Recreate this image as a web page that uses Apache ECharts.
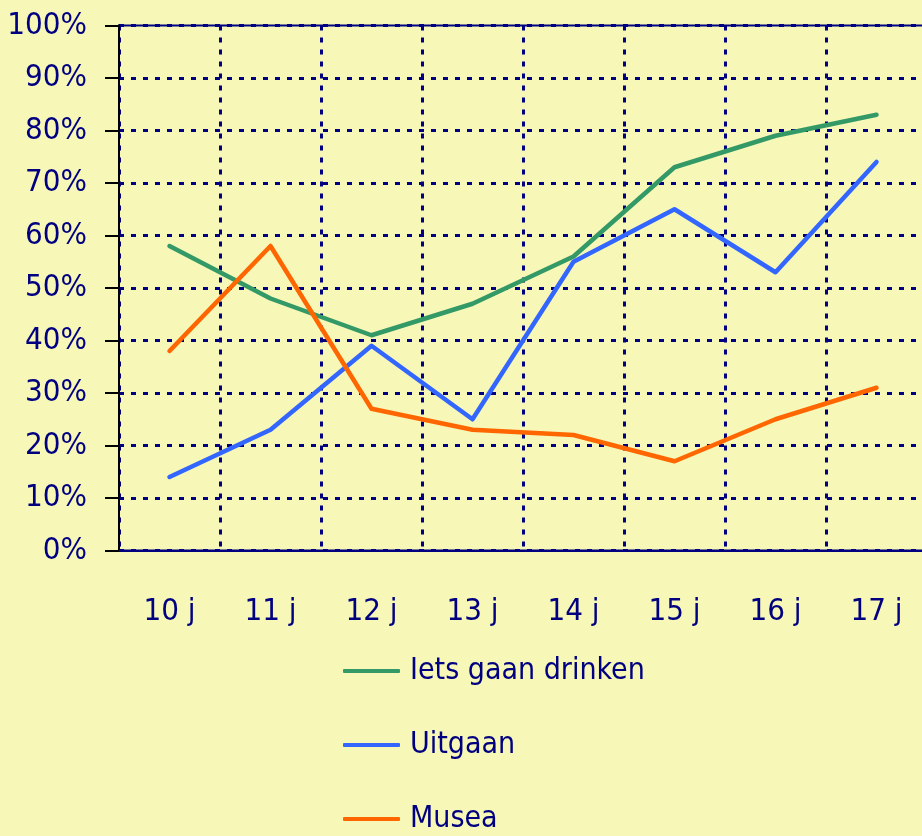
<!DOCTYPE html>
<html lang="nl">
<head>
	<meta charset="UTF-8">
	<title>Activiteiten per leeftijd</title>
	<style type="text/css">
		html, body { margin: 0; padding: 0; background: #F7F7B7; }
	</style>
</head>
<body>
	<div id="main" style="width:922px;height:836px;"></div>
</body>
</html>
<script type="text/javascript" src="https://cdn.jsdelivr.net/npm/echarts@6/dist/echarts.min.js"></script>
<script type="text/javascript">
	var ages = ["10 j", "11 j", "12 j", "13 j", "14 j", "15 j", "16 j", "17 j"];
	var drinken = [58, 48, 41, 47, 56, 73, 79, 83]; // Iets gaan drinken
	var uitgaan = [14, 23, 39, 25, 55, 65, 53, 74]; // Uitgaan
	var musea = [38, 58, 27, 23, 22, 17, 25, 31];   // Musea
	var seriesNames = ["Iets gaan drinken", "Uitgaan", "Musea"];
	var seriesColors = ["#339966", "#3366FF", "#FF6600"];

	var navy = "#000080";
	var font = "'Liberation Sans Narrow', 'DejaVu Sans Condensed', sans-serif";

	var myChart = echarts.init(document.getElementById("main"));

	function lineSeries(name, data, color) {
		return {
			name: name,
			type: "line",
			data: data,
			symbol: "none",
			lineStyle: { color: color, width: 4.5, cap: "round", join: "round" },
			itemStyle: { color: color }
		};
	}

	var option = {
		backgroundColor: "#F7F7B7",
		animation: false,
		textStyle: { fontFamily: font },
		grid: {
			left: 119,
			top: 25.5,
			width: 808,
			bottom: 285.5,
			outerBoundsMode: "none",
			containLabel: false,
			show: true,
			borderColor: navy,
			borderWidth: 2,
			backgroundColor: "transparent"
		},
		legend: {
			orient: "vertical",
			left: 343,
			top: 654,
			height: 200,
			padding: 0,
			itemWidth: 57,
			itemHeight: 4,
			itemGap: 40,
			icon: "roundRect",
			data: seriesNames,
			textStyle: { color: navy, fontSize: 30, lineHeight: 34, fontFamily: font, padding: [0, 0, 0, 5] }
		},
		xAxis: {
			type: "category",
			data: ages,
			boundaryGap: true,
			axisLine: { show: true, lineStyle: { color: navy, width: 2 } },
			axisTick: { show: false },
			axisLabel: { color: navy, fontSize: 31, fontFamily: font, margin: 46 },
			splitLine: {
				show: true,
				lineStyle: { color: navy, width: 3, type: [5, 7] }
			}
		},
		yAxis: {
			type: "value",
			min: 0,
			max: 100,
			interval: 10,
			axisLine: { show: true, lineStyle: { color: "#000000", width: 2 } },
			axisTick: { show: true, length: 14, lineStyle: { color: "#000000", width: 2 } },
			axisLabel: {
				color: navy,
				fontSize: 31,
				fontFamily: font,
				margin: 32,
				formatter: "{value}%"
			},
			splitLine: {
				show: true,
				lineStyle: { color: navy, width: 3, type: [5, 7] }
			}
		},
		series: [
			lineSeries(seriesNames[0], drinken, seriesColors[0]),
			lineSeries(seriesNames[1], uitgaan, seriesColors[1]),
			lineSeries(seriesNames[2], musea, seriesColors[2])
		]
	};

	myChart.setOption(option);
</script>
